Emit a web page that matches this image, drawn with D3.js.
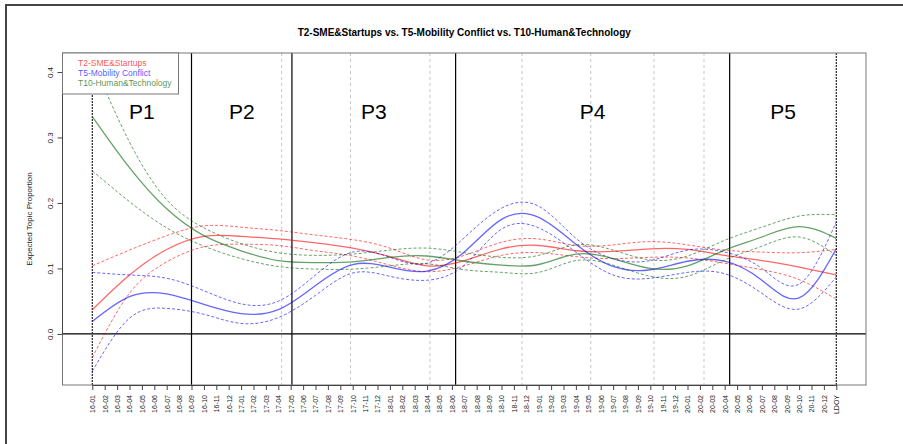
<!DOCTYPE html>
<html lang="en">
<head>
<meta charset="UTF-8">
<title>T2 vs T5 vs T10</title>
<style>
  html, body { margin: 0; padding: 0; background: #fff; overflow: hidden; }
  text { font-family: "Liberation Sans", Arial, sans-serif; }
</style>
</head>
<body>
<script src="https://cdn.jsdelivr.net/npm/d3@7"></script>
<script>

const monthLabels = [
  '16-01','16-02','16-03','16-04','16-05','16-06','16-07','16-08','16-09','16-10','16-11','16-12',
  '17-01','17-02','17-03','17-04','17-05','17-06','17-07','17-08','17-09','17-10','17-11','17-12',
  '18-01','18-02','18-03','18-04','18-05','18-06','18-07','18-08','18-09','18-10','18-11','18-12',
  '19-01','19-02','19-03','19-04','19-05','19-06','19-07','19-08','19-09','19-10','19-11','19-12',
  '20-01','20-02','20-03','20-04','20-05','20-06','20-07','20-08','20-09','20-10','20-11','20-12',
  'LDOY'
]
const yTicks = [0, 0.1, 0.2, 0.3, 0.4]

// month index where the estimates were read
const knots = [0, 3, 6, 9, 12, 15, 18, 21, 24, 27, 30, 33, 36, 39, 42, 45, 48, 51, 54, 57, 60]

const t2Mean  = [0.037, 0.090, 0.129, 0.149, 0.149, 0.145, 0.139, 0.131, 0.118, 0.104, 0.112, 0.130, 0.135, 0.127, 0.126, 0.130, 0.129, 0.120, 0.112, 0.102, 0.090]
const t2Upper = [0.104, 0.128, 0.150, 0.165, 0.163, 0.158, 0.151, 0.144, 0.131, 0.113, 0.120, 0.140, 0.145, 0.135, 0.136, 0.141, 0.136, 0.128, 0.125, 0.124, 0.129]
const t2Lower = [-0.036, 0.062, 0.110, 0.133, 0.137, 0.135, 0.127, 0.119, 0.105, 0.095, 0.104, 0.120, 0.124, 0.118, 0.115, 0.117, 0.116, 0.108, 0.098, 0.083, 0.053]

const t5Mean  = [0.019, 0.057, 0.061, 0.045, 0.031, 0.037, 0.074, 0.106, 0.102, 0.096, 0.125, 0.175, 0.178, 0.137, 0.103, 0.098, 0.111, 0.111, 0.082, 0.055, 0.130]
const t5Upper = [0.094, 0.090, 0.085, 0.066, 0.046, 0.050, 0.090, 0.125, 0.117, 0.108, 0.147, 0.192, 0.195, 0.146, 0.115, 0.112, 0.128, 0.125, 0.100, 0.076, 0.171]
const t5Lower = [-0.057, 0.024, 0.039, 0.030, 0.016, 0.025, 0.059, 0.093, 0.088, 0.082, 0.105, 0.160, 0.162, 0.125, 0.090, 0.085, 0.094, 0.092, 0.062, 0.038, 0.087]

const t10Mean  = [0.332, 0.254, 0.191, 0.150, 0.127, 0.112, 0.109, 0.110, 0.117, 0.119, 0.111, 0.105, 0.106, 0.122, 0.115, 0.100, 0.104, 0.128, 0.148, 0.164, 0.146]
const t10Upper = [0.418, 0.293, 0.205, 0.162, 0.138, 0.124, 0.120, 0.122, 0.128, 0.131, 0.124, 0.117, 0.120, 0.136, 0.128, 0.113, 0.119, 0.143, 0.163, 0.180, 0.182]
const t10Lower = [0.249, 0.202, 0.162, 0.134, 0.115, 0.103, 0.099, 0.099, 0.104, 0.107, 0.098, 0.094, 0.094, 0.112, 0.105, 0.088, 0.088, 0.113, 0.134, 0.148, 0.120]

// period boundaries and dotted guide lines, in month index
const periodBreaks = [8, 16.1, 29.3, 51.4]
const periodEnds = [0, 60]
const guideLines = [15.27, 20.82, 27.23, 34.65, 40.2, 45.3, 49.33]
const periodNames = ['P1', 'P2', 'P3', 'P4', 'P5']

const topics = [
  { name: 'T2-SME&Startups', color: '#ff0000', mean: t2Mean, upper: t2Upper, lower: t2Lower },
  { name: 'T5-Mobility Conflict', color: '#0000ff', mean: t5Mean, upper: t5Upper, lower: t5Lower },
  { name: 'T10-Human&Technology', color: '#006400', mean: t10Mean, upper: t10Upper, lower: t10Lower }
]

const width = 903
const height = 444
const box = { left: 62.5, right: 866, top: 53, bottom: 385 }

const svg = d3.select('body')
  .append('svg')
  .attr('width', width)
  .attr('height', height)

// outer frame
svg.append('rect')
  .attr('x', 6).attr('y', 5)
  .attr('width', 920).attr('height', 460)
  .attr('fill', 'none')
  .attr('stroke', '#444')
  .attr('stroke-width', 2)

const x = d3.scaleLinear()
  .domain([0, 60])
  .range([92.3, 836.3])

const xCat = d3.scalePoint()
  .domain(monthLabels)
  .range([92.3, 836.3])

const y = d3.scaleLinear()
  .domain([-0.078, 0.429])
  .range([box.bottom, box.top])

svg.append('clipPath').attr('id', 'plot')
  .append('rect')
  .attr('x', box.left).attr('y', box.top)
  .attr('width', box.right - box.left).attr('height', box.bottom - box.top)

const g = svg.append('g').attr('clip-path', 'url(#plot)')

// gray dotted guides
g.selectAll('.guide')
  .data(guideLines)
  .enter()
  .append('line')
  .attr('class', 'guide')
  .attr('x1', d => x(d)).attr('x2', d => x(d))
  .attr('y1', box.top).attr('y2', box.bottom)
  .attr('stroke', '#c8c8c8')
  .attr('stroke-dasharray', '3,3')

// zero line
g.append('line')
  .attr('x1', box.left).attr('x2', box.right)
  .attr('y1', y(0)).attr('y2', y(0))
  .attr('stroke', '#000')
  .attr('stroke-width', 1.2)

// period boundaries
g.selectAll('.period')
  .data(periodBreaks)
  .enter()
  .append('line')
  .attr('class', 'period')
  .attr('x1', d => x(d)).attr('x2', d => x(d))
  .attr('y1', box.top).attr('y2', box.bottom)
  .attr('stroke', '#000')
  .attr('stroke-width', 1.2)

g.selectAll('.pend')
  .data(periodEnds)
  .enter()
  .append('line')
  .attr('class', 'pend')
  .attr('x1', d => x(d)).attr('x2', d => x(d))
  .attr('y1', box.top).attr('y2', box.bottom)
  .attr('stroke', '#222')
  .attr('stroke-width', 1.2)
  .attr('stroke-dasharray', '2,1')

// curves
const line = d3.line()
  .x((d, i) => x(knots[i]))
  .y(d => y(d))
  .curve(d3.curveNatural)

topics.forEach(t => {
  const tg = g.append('g').attr('stroke', t.color).attr('fill', 'none').attr('stroke-opacity', 0.6)
  tg.append('path').attr('d', line(t.mean)).attr('stroke-width', 1.3)
  tg.append('path').attr('d', line(t.upper)).attr('stroke-width', 1).attr('stroke-dasharray', '3,2')
  tg.append('path').attr('d', line(t.lower)).attr('stroke-width', 1).attr('stroke-dasharray', '3,2')
})

// period names
const pBounds = [0].concat(periodBreaks).concat([60])
svg.selectAll('.pname')
  .data(periodNames)
  .enter()
  .append('text')
  .attr('class', 'pname')
  .attr('x', (d, i) => (x(pBounds[i]) + x(pBounds[i + 1])) / 2)
  .attr('y', 118.5)
  .attr('text-anchor', 'middle')
  .attr('font-size', 21)
  .text(d => d)

// box
svg.append('rect')
  .attr('x', box.left).attr('y', box.top)
  .attr('width', box.right - box.left).attr('height', box.bottom - box.top)
  .attr('fill', 'none')
  .attr('stroke', '#777')
  .attr('stroke-width', 1)

// x axis
const xAxis = svg.append('g')
  .attr('transform', `translate(0, ${box.bottom})`)
  .call(d3.axisBottom(xCat).tickSize(5).tickSizeOuter(0))
xAxis.select('.domain').attr('stroke', '#444')
xAxis.selectAll('.tick line').attr('stroke', '#444')
xAxis.selectAll('.tick text')
  .attr('font-size', 7)
  .attr('font-family', '"Liberation Sans", Arial, sans-serif')
  .attr('fill', '#222')
  .attr('text-anchor', 'end')
  .attr('transform', 'rotate(-90)')
  .attr('x', -10)
  .attr('y', 0)
  .attr('dy', '0.35em')

// y axis
const yAxis = svg.append('g')
  .attr('transform', `translate(${box.left}, 0)`)
  .call(d3.axisLeft(y).tickValues(yTicks).tickFormat(d3.format('.1f')).tickSize(5).tickSizeOuter(0))
yAxis.select('.domain')
  .attr('d', `M0,${y(0)}V${y(0.4)}`)
  .attr('stroke', '#444')
yAxis.selectAll('.tick line').attr('stroke', '#444')
yAxis.selectAll('.tick text')
  .attr('font-size', 8)
  .attr('font-family', '"Liberation Sans", Arial, sans-serif')
  .attr('fill', '#222')
  .attr('text-anchor', 'middle')
  .attr('transform', 'rotate(-90)')
  .attr('x', 0)
  .attr('y', -10)
  .attr('dy', 0)

svg.append('text')
  .attr('transform', `translate(31.5, ${(box.top + box.bottom) / 2}) rotate(-90)`)
  .attr('text-anchor', 'middle')
  .attr('font-size', 8)
  .attr('fill', '#222')
  .text('Expected Topic Proportion')

// title
svg.append('text')
  .attr('x', (box.left + box.right) / 2)
  .attr('y', 35.5)
  .attr('text-anchor', 'middle')
  .attr('font-size', 10)
  .attr('font-weight', 'bold')
  .text('T2-SME&Startups vs. T5-Mobility Conflict vs. T10-Human&Technology')

// legend
const legend = svg.append('g')
legend.append('rect')
  .attr('x', box.left).attr('y', box.top)
  .attr('width', 116).attr('height', 41)
  .attr('fill', '#fff')
  .attr('stroke', '#777')
legend.selectAll('.leg')
  .data(topics)
  .enter()
  .append('text')
  .attr('class', 'leg')
  .attr('x', 78)
  .attr('y', (d, i) => 66 + i * 9.8)
  .attr('font-size', 8.5)
  .attr('fill', d => d.color)
  .attr('fill-opacity', 0.7)
  .text(d => d.name)

</script>
</body>
</html>
